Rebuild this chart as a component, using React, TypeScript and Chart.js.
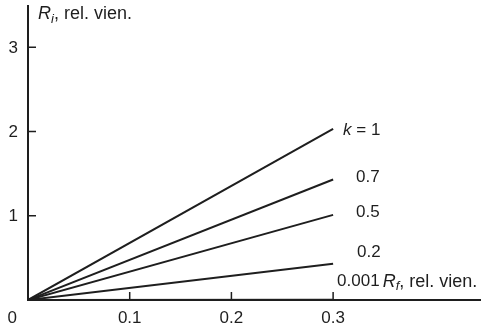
import React, { useEffect, useRef } from "react";
import { Chart, registerables } from "chart.js";

Chart.register(...registerables);

// ---- data ----
const xPoints = [0, 0.3];
const k1 = [0, 2.03];
const k07 = [0, 1.43];
const k05 = [0, 1.01];
const k02 = [0, 0.43];
const k0001 = [0, 0.004];
const seriesValues = [k1, k07, k05, k02, k0001];
const seriesNames = ["= 1", "0.7", "0.5", "0.2", "0.001"];
const xTicks = [0.1, 0.2, 0.3];
const xTickLabels = ["0.1", "0.2", "0.3"];
const yTicks = [1, 2, 3];
const yTickLabels = ["1", "2", "3"];
const originLabel = "0";
const axisUnit = ", rel. vien.";

const FONT = "'Liberation Sans', Arial, sans-serif";
const INK = "#1e1e1e";
const FS = 17;
const TFS = 18;

// label offsets (px) relative to line end points
const labelOffsets = [
  { dx: 10, dy: 1 },
  { dx: 23, dy: -2.5 },
  { dx: 23, dy: -3 },
  { dx: 24, dy: -11 },
  { dx: 4, dy: -18 },
];

const overlay = {
  id: "overlay",
  afterDraw(chart: any) {
    const ctx = chart.ctx as CanvasRenderingContext2D;
    const xs = chart.scales.x;
    const ys = chart.scales.y;
    const x0 = xs.getPixelForValue(0);
    const y0 = ys.getPixelForValue(0);
    const right = chart.chartArea.right;
    const top = chart.chartArea.top;
    ctx.save();
    ctx.strokeStyle = INK;
    ctx.lineWidth = 2;
    // axes
    ctx.beginPath();
    ctx.moveTo(x0, top);
    ctx.lineTo(x0, y0);
    ctx.lineTo(right, y0);
    ctx.stroke();
    ctx.lineWidth = 1.5;
    // ticks
    ctx.beginPath();
    xTicks.forEach((v) => {
      const px = xs.getPixelForValue(v);
      ctx.moveTo(px, y0);
      ctx.lineTo(px, y0 - 8);
    });
    yTicks.forEach((v) => {
      const py = ys.getPixelForValue(v);
      ctx.moveTo(x0, py);
      ctx.lineTo(x0 + 8, py);
    });
    ctx.stroke();

    ctx.fillStyle = INK;
    ctx.font = `${FS}px ${FONT}`;
    ctx.textBaseline = "middle";
    // x tick labels
    ctx.textAlign = "center";
    xTicks.forEach((v, i) => {
      ctx.fillText(xTickLabels[i], xs.getPixelForValue(v), y0 + 18);
    });
    ctx.textAlign = "right";
    ctx.fillText(originLabel, x0 - 11, y0 + 18);
    yTicks.forEach((v, i) => {
      ctx.fillText(yTickLabels[i], x0 - 10, ys.getPixelForValue(v) + 1);
    });

    // axis title helper
    const drawTitle = (x: number, y: number, sub: string) => {
      ctx.textAlign = "left";
      ctx.font = `italic ${TFS}px ${FONT}`;
      ctx.fillText("R", x, y);
      let cx = x + ctx.measureText("R").width;
      ctx.font = `italic 13px ${FONT}`;
      ctx.fillText(sub, cx, y + 5);
      cx += ctx.measureText(sub).width;
      ctx.font = `${TFS}px ${FONT}`;
      ctx.fillText(axisUnit, cx, y);
    };
    drawTitle(x0 + 10, top + 9, "i");

    // series labels
    seriesValues.forEach((vals, i) => {
      const ex = xs.getPixelForValue(xPoints[xPoints.length - 1]);
      const ey = ys.getPixelForValue(vals[vals.length - 1]);
      const lx = ex + labelOffsets[i].dx;
      const ly = ey + labelOffsets[i].dy;
      ctx.textAlign = "left";
      if (i === 0) {
        ctx.font = `italic ${FS}px ${FONT}`;
        ctx.fillText("k", lx, ly);
        const w = ctx.measureText("k ").width;
        ctx.font = `${FS}px ${FONT}`;
        ctx.fillText(seriesNames[i], lx + w, ly);
      } else {
        ctx.font = `${FS}px ${FONT}`;
        ctx.fillText(seriesNames[i], lx, ly);
        if (i === seriesValues.length - 1) {
          const w = ctx.measureText(seriesNames[i]).width;
          drawTitle(lx + w + 3, ly, "f");
        }
      }
    });
    ctx.restore();
  },
};

export default function App() {
  const ref = useRef<HTMLCanvasElement>(null);
  useEffect(() => {
    document.body.style.margin = "0";
    const chart = new Chart(ref.current!, {
      type: "line",
      data: {
        datasets: seriesValues.map((vals, i) => ({
          label: seriesNames[i],
          data: vals.map((y, j) => ({ x: xPoints[j], y })),
          borderColor: INK,
          borderWidth: 2,
          pointRadius: 0,
          fill: false,
          tension: 0,
        })),
      },
      options: {
        responsive: false,
        animation: false,
        layout: { padding: { left: 28, top: 5, right: 0, bottom: 29 } },
        plugins: { legend: { display: false }, tooltip: { enabled: false } },
        scales: {
          x: { type: "linear", display: false, min: 0, max: 0.4454 },
          y: { type: "linear", display: false, min: 0, max: 3.5 },
        },
      },
      plugins: [overlay],
    });
    return () => chart.destroy();
  }, []);
  return (
    <div style={{ position: "absolute", left: 0, top: 0, width: 481, height: 329, background: "#fff" }}>
      <canvas ref={ref} width={481} height={329} />
    </div>
  );
}
